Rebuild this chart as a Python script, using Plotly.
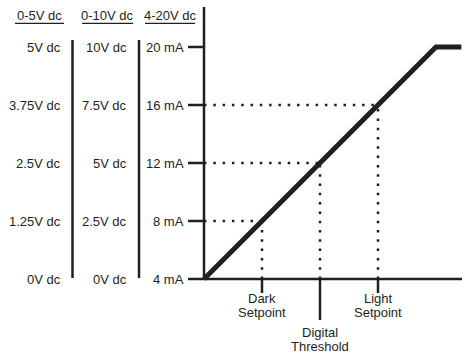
import plotly.graph_objects as go

# ---- data ----
current_ma = [4, 8, 12, 16, 20]
labels_0_5v = ["0V dc", "1.25V dc", "2.5V dc", "3.75V dc", "5V dc"]
labels_0_10v = ["0V dc", "2.5V dc", "5V dc", "7.5V dc", "10V dc"]
labels_4_20ma = ["4 mA", "8 mA", "12 mA", "16 mA", "20 mA"]
column_headers = ["0-5V dc", "0-10V dc", "4-20V dc"]
setpoint_ma = [8, 12, 16]
setpoint_names = [["Dark", "Setpoint"], ["Digital", "Threshold"], ["Light", "Setpoint"]]
curve_x = [4, 20, 21.75]
curve_y = [4, 20, 20]

# ---- layout helpers (pixel -> data) ----
W, H = 465, 357
PX_PER = 14.5
X0PX, Y0PX = 204, 279
INK = "#231f20"
FONT = "Liberation Sans, Arial, sans-serif"
FS = 13


def dx(px):
    return 4 + (px - X0PX) / PX_PER


def dy(py):
    return 4 + (Y0PX - py) / PX_PER


fig = go.Figure()

# transfer curve
fig.add_trace(go.Scatter(x=curve_x, y=curve_y, mode="lines",
                         line=dict(color=INK, width=5), hoverinfo="skip"))

# dotted guides
for s in setpoint_ma:
    fig.add_trace(go.Scatter(x=[4, s], y=[s, s], mode="lines",
                             line=dict(color=INK, width=2.5, dash="2.5px,6.8px"),
                             hoverinfo="skip"))
    fig.add_trace(go.Scatter(x=[s, s], y=[4, s], mode="lines",
                             line=dict(color=INK, width=2.5, dash="2.5px,6.8px"),
                             hoverinfo="skip"))

shapes = []
lw = 2.5
# main axes
shapes.append(dict(type="line", x0=4, x1=4, y0=dy(280), y1=dy(7),
                   line=dict(color=INK, width=lw)))
shapes.append(dict(type="line", x0=4, x1=dx(462), y0=4, y1=4,
                   line=dict(color=INK, width=lw)))
# column separators
for sx in [72.5, 139]:
    shapes.append(dict(type="line", x0=dx(sx), x1=dx(sx), y0=dy(278), y1=dy(40),
                       line=dict(color=INK, width=lw)))
# y ticks
for v in current_ma:
    shapes.append(dict(type="line", x0=dx(188), x1=4, y0=v, y1=v,
                       line=dict(color=INK, width=lw)))
# x ticks
for i, s in enumerate(setpoint_ma):
    bottom = 320 if i == 1 else 293
    shapes.append(dict(type="line", x0=s, x1=s, y0=4, y1=dy(bottom),
                       line=dict(color=INK, width=lw)))
# header underlines
for (a, b) in [(15, 64), (82, 133), (145, 195)]:
    shapes.append(dict(type="line", x0=dx(a), x1=dx(b), y0=dy(23.3), y1=dy(23.3),
                       line=dict(color=INK, width=1.2)))

annotations = []
font = dict(family=FONT, size=FS, color=INK)
# headers
for t, cx in zip(column_headers, [39.5, 107.5, 170]):
    annotations.append(dict(x=dx(cx), y=dy(15), text=t, showarrow=False,
                            xanchor="center", yanchor="middle", font=font))
# value columns
for labels, right in [(labels_0_5v, 61), (labels_0_10v, 127), (labels_4_20ma, 184)]:
    for v, t in zip(current_ma, labels):
        annotations.append(dict(x=dx(right), y=v, text=t, showarrow=False,
                                xanchor="right", yanchor="middle", font=font,
                                xshift=2))
# setpoint labels
for i, (s, names) in enumerate(zip(setpoint_ma, setpoint_names)):
    top = 332.5 if i == 1 else 298.5
    for j, t in enumerate(names):
        annotations.append(dict(x=s, y=dy(top + 14 * j), text=t, showarrow=False,
                                xanchor="center", yanchor="middle", font=font))

fig.update_layout(
    width=W, height=H,
    margin=dict(l=0, r=0, t=0, b=0),
    paper_bgcolor="white", plot_bgcolor="white",
    showlegend=False,
    xaxis=dict(range=[dx(0), dx(W)], visible=False, fixedrange=True),
    yaxis=dict(range=[dy(H), dy(0)], visible=False, fixedrange=True),
    shapes=shapes,
    annotations=annotations,
)

fig.write_html("out.html", config={"displayModeBar": False},
               post_script="document.body.style.margin='0';document.body.style.overflow='hidden';")
